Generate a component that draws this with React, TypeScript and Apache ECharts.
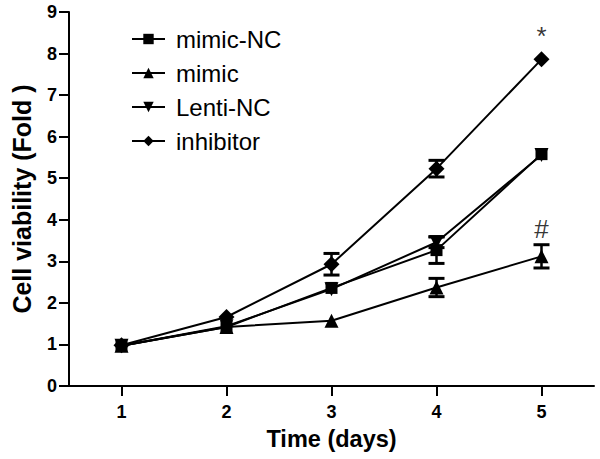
import React, { useEffect, useRef } from "react";
import * as echarts from "echarts";

const days = ["1", "2", "3", "4", "5"];
const yTicks = { min: 0, max: 9, interval: 1 };

const mimicNC = [0.97, 1.42, 2.36, 3.27, 5.58];
const mimic = [0.97, 1.42, 1.57, 2.37, 3.12];
const lentiNC = [0.97, 1.44, 2.33, 3.46, 5.56];
const inhibitor = [0.98, 1.66, 2.93, 5.23, 7.86];

// error bars smaller than the symbol are hidden in the reference
const mimicNCErr = [0, 0, 0, 0.32, 0];
const mimicErr = [0, 0, 0, 0.22, 0.28];
const lentiNCErr = [0, 0, 0, 0.13, 0];
const inhibitorErr = [0, 0, 0.26, 0.2, 0];

const annoText = ["*", "#"];
const annoDay = [4, 4];
const annoY = [8.42, 3.78];

const FONT = "'Liberation Sans', Arial, Helvetica, sans-serif";

export default function App() {
  const ref = useRef<HTMLDivElement>(null);
  useEffect(() => {
    if (!ref.current) return;
    const chart = echarts.init(ref.current, null, { renderer: "svg" });

    const groups = [
      { name: "mimic-NC", values: mimicNC, err: mimicNCErr, symbol: "rect", size: 12, rotate: 0 },
      { name: "mimic", values: mimic, err: mimicErr, symbol: "triangle", size: 14, rotate: 0 },
      { name: "Lenti-NC", values: lentiNC, err: lentiNCErr, symbol: "triangle", size: 14, rotate: 180 },
      { name: "inhibitor", values: inhibitor, err: inhibitorErr, symbol: "diamond", size: 16, rotate: 0 },
    ];

    const errData: number[][] = [];
    groups.forEach((g) => {
      g.values.forEach((v, i) => {
        if (g.err[i] > 0) errData.push([i, v - g.err[i], v + g.err[i]]);
      });
    });

    const lineSeries = groups.map((g) => ({
      name: g.name,
      type: "line",
      data: g.values,
      symbol: g.symbol,
      symbolSize: g.size,
      symbolRotate: g.rotate,
      showAllSymbol: true,
      lineStyle: { color: "#000", width: 2 },
      itemStyle: { color: "#000", borderWidth: 0 },
      emphasis: { disabled: true },
      z: 3,
    }));

    const option: any = {
      animation: false,
      backgroundColor: "#fff",
      grid: { left: 69, right: 6, top: 12, bottom: 73 },
      legend: {
        orient: "vertical",
        left: 126,
        top: 22,
        itemWidth: 33,
        itemHeight: 13,
        itemGap: 10,
        data: groups.map((g) => g.name),
        textStyle: {
          fontFamily: FONT,
          fontSize: 24,
          lineHeight: 24,
          color: "#000",
          padding: [0, 0, 0, 6],
        },
        selectedMode: false,
      },
      xAxis: {
        type: "category",
        data: days,
        boundaryGap: true,
        name: "Time (days)",
        nameLocation: "middle",
        nameGap: 41,
        nameTextStyle: { fontFamily: FONT, fontSize: 23.5, fontWeight: "bold", color: "#000" },
        axisLine: { show: true, lineStyle: { color: "#000", width: 2 } },
        axisTick: { show: true, alignWithLabel: true, length: 10, lineStyle: { color: "#000", width: 2 } },
        axisLabel: { fontFamily: FONT, fontSize: 18, fontWeight: "bold", color: "#000", margin: 17 },
        splitLine: { show: false },
      },
      yAxis: {
        type: "value",
        min: yTicks.min,
        max: yTicks.max,
        interval: yTicks.interval,
        name: "Cell viability (Fold )",
        nameLocation: "middle",
        nameGap: 35,
        nameTextStyle: { fontFamily: FONT, fontSize: 25, fontWeight: "bold", color: "#000" },
        axisLine: { show: true, lineStyle: { color: "#000", width: 2 } },
        axisTick: { show: true, length: 10, lineStyle: { color: "#000", width: 2 } },
        axisLabel: { fontFamily: FONT, fontSize: 18, fontWeight: "bold", color: "#000", margin: 12 },
        splitLine: { show: false },
      },
      series: [
        {
          name: "errors",
          type: "custom",
          data: errData,
          encode: { x: 0, y: [1, 2] },
          z: 2,
          silent: true,
          renderItem: (params: any, api: any) => {
            const x = api.value(0);
            const lo = api.coord([x, api.value(1)]);
            const hi = api.coord([x, api.value(2)]);
            const hw = 8;
            return {
              type: "group",
              children: [
                { type: "line", shape: { x1: lo[0], y1: lo[1], x2: hi[0], y2: hi[1] }, style: { stroke: "#000", lineWidth: 2.5 } },
                { type: "line", shape: { x1: lo[0] - hw, y1: lo[1], x2: lo[0] + hw, y2: lo[1] }, style: { stroke: "#000", lineWidth: 3 } },
                { type: "line", shape: { x1: hi[0] - hw, y1: hi[1], x2: hi[0] + hw, y2: hi[1] }, style: { stroke: "#000", lineWidth: 3 } },
              ],
            };
          },
        },
        ...lineSeries,
        {
          name: "annotations",
          type: "scatter",
          data: annoText.map((t, i) => [annoDay[i], annoY[i], t]),
          symbolSize: 0,
          silent: true,
          label: {
            show: true,
            position: "inside",
            formatter: (p: any) => p.value[2],
            fontFamily: FONT,
            fontSize: 26,
            color: "#000",
          },
          z: 4,
        },
      ],
    };
    chart.setOption(option);
    return () => chart.dispose();
  }, []);

  return (
    <div
      ref={ref}
      style={{ position: "fixed", left: 0, top: 0, width: 600, height: 459, background: "#fff" }}
    />
  );
}
